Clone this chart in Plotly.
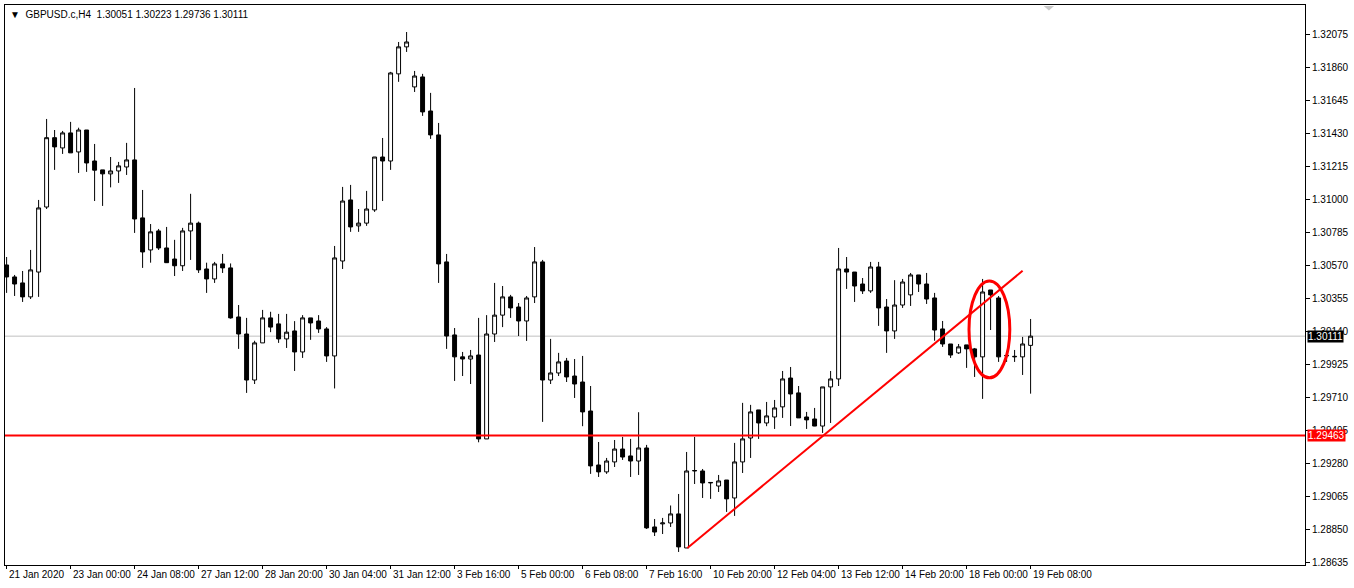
import plotly.graph_objects as go

opens = [1.30575,1.30497,1.30458,1.30367,1.30529,1.30953,1.31405,1.31338,1.31436,1.31312,
 1.31455,1.31253,1.31195,1.31169,1.31188,1.31214,1.31260,1.30882,1.30673,1.30797,
 1.30686,1.30614,1.30570,1.30797,1.30848,1.30549,1.30484,1.30582,1.30556,1.30236,
 1.30125,1.29825,1.30067,1.30230,1.30191,1.30093,1.30145,1.30008,1.30230,1.30210,
 1.30158,1.29982,1.30601,1.30999,1.30830,1.30848,1.30934,1.31279,1.31253,1.31821,
 1.31997,1.31736,1.31801,1.31579,1.31423,1.30595,1.30119,1.29976,1.29962,1.29988,
 1.29441,1.30125,1.30248,1.30367,1.30301,1.30210,1.30367,1.30595,1.29825,1.29871,
 1.29949,1.29851,1.29812,1.29623,1.29271,1.29226,1.29291,1.29375,1.29330,1.29297,
 1.29382,1.28867,1.28887,1.28893,1.28952,1.28730,1.29232,1.29232,1.29154,1.29134,
 1.29173,1.29056,1.29291,1.29447,1.29630,1.29545,1.29584,1.29650,1.29838,1.29741,
 1.29584,1.29571,1.29525,1.29780,1.29832,1.30549,1.30529,1.30451,1.30406,1.30562,
 1.30301,1.30145,1.30314,1.30380,1.30510,1.30451,1.30360,1.30158,1.30060,1.30002,
 1.30054,1.30028,1.29976,1.30412,1.30360,1.29982,1.29976,1.29976,1.30051]
highs = [1.30627,1.30510,1.30536,1.30673,1.30999,1.31527,1.31455,1.31449,1.31508,1.31470,
 1.31455,1.31364,1.31195,1.31279,1.31247,1.31371,1.31729,1.31064,1.30842,1.30810,
 1.30823,1.30739,1.30817,1.31039,1.30858,1.30590,1.30595,1.30647,1.30585,1.30314,
 1.30230,1.30081,1.30282,1.30270,1.30256,1.30256,1.30209,1.30248,1.30230,1.30248,
 1.30170,1.30699,1.31084,1.31097,1.30940,1.31058,1.31279,1.31403,1.31834,1.32029,
 1.32094,1.31840,1.31821,1.31697,1.31501,1.30647,1.30164,1.30008,1.30021,1.30230,
 1.30248,1.30458,1.30438,1.30380,1.30327,1.30373,1.30692,1.30608,1.30093,1.30002,
 1.29969,1.29962,1.29982,1.29786,1.29421,1.29317,1.29434,1.29454,1.29441,1.29615,
 1.29402,1.28919,1.28926,1.29007,1.29082,1.29356,1.29454,1.29245,1.29157,1.29206,
 1.29173,1.29415,1.29676,1.29663,1.29630,1.29682,1.29695,1.29884,1.29910,1.29786,
 1.29617,1.29643,1.29780,1.29884,1.30686,1.30627,1.30529,1.30490,1.30595,1.30595,
 1.30353,1.30476,1.30484,1.30523,1.30510,1.30523,1.30393,1.30210,1.30060,1.30060,
 1.30054,1.30034,1.30484,1.30412,1.30373,1.30015,1.30021,1.30106,1.30223]
lows = [1.30393,1.30373,1.30334,1.30353,1.30367,1.30940,1.31195,1.31299,1.31306,1.31175,
 1.31182,1.30992,1.30960,1.31081,1.31110,1.31162,1.30784,1.30556,1.30590,1.30673,
 1.30595,1.30503,1.30536,1.30608,1.30523,1.30393,1.30458,1.30523,1.30225,1.30028,
 1.29741,1.29799,1.30067,1.30137,1.30067,1.30034,1.29884,1.29969,1.30087,1.30132,
 1.29943,1.29770,1.30549,1.30791,1.30791,1.30830,1.30921,1.30992,1.31195,1.31769,
 1.31964,1.31703,1.31547,1.31397,1.30458,1.30028,1.29819,1.29851,1.29799,1.29419,
 1.29441,1.30073,1.30170,1.30230,1.30112,1.30080,1.30327,1.29552,1.29799,1.29851,
 1.29812,1.29708,1.29524,1.29213,1.29193,1.29213,1.29258,1.29304,1.29193,1.29206,
 1.28854,1.28808,1.28821,1.28867,1.28704,1.28730,1.29147,1.29056,1.29050,1.29095,
 1.28965,1.28939,1.29219,1.29317,1.29441,1.29524,1.29506,1.29578,1.29525,1.29578,
 1.29506,1.29524,1.29480,1.29545,1.29786,1.30419,1.30334,1.30386,1.30393,1.30178,
 1.30002,1.30093,1.30295,1.30308,1.30399,1.30321,1.30081,1.30041,1.29969,1.29995,
 1.29904,1.29845,1.29702,1.30151,1.29943,1.29943,1.29943,1.29858,1.29736]
closes = [1.30497,1.30451,1.30367,1.30543,1.30947,1.31405,1.31345,1.31436,1.31306,1.31455,
 1.31240,1.31193,1.31169,1.31188,1.31221,1.31260,1.30875,1.30660,1.30791,1.30686,
 1.30590,1.30570,1.30797,1.30848,1.30543,1.30484,1.30582,1.30556,1.30230,1.30125,
 1.29825,1.30067,1.30230,1.30170,1.30093,1.30137,1.30008,1.30230,1.30197,1.30158,
 1.29982,1.30621,1.30992,1.30823,1.30848,1.30940,1.31279,1.31253,1.31827,1.31997,
 1.32029,1.31807,1.31573,1.31423,1.30582,1.30112,1.29976,1.29962,1.29982,1.29441,
 1.30125,1.30248,1.30367,1.30295,1.30210,1.30360,1.30595,1.29825,1.29871,1.29943,
 1.29845,1.29799,1.29617,1.29265,1.29226,1.29297,1.29375,1.29323,1.29297,1.29382,
 1.28861,1.28834,1.28893,1.28952,1.28737,1.29232,1.29235,1.29154,1.29157,1.29167,
 1.29050,1.29291,1.29441,1.29617,1.29545,1.29591,1.29643,1.29832,1.29734,1.29578,
 1.29565,1.29525,1.29780,1.29832,1.30549,1.30529,1.30438,1.30406,1.30562,1.30295,
 1.30145,1.30314,1.30464,1.30510,1.30451,1.30353,1.30151,1.30060,1.29988,1.30041,
 1.30028,1.29976,1.30399,1.30380,1.29976,1.29985,1.29979,1.30060,1.30111]

x_labels = ["21 Jan 2020","23 Jan 00:00","24 Jan 08:00","27 Jan 12:00","28 Jan 20:00",
            "30 Jan 04:00","31 Jan 12:00","3 Feb 16:00","5 Feb 00:00","6 Feb 08:00",
            "7 Feb 16:00","10 Feb 20:00","12 Feb 04:00","13 Feb 12:00","14 Feb 20:00",
            "18 Feb 00:00","19 Feb 08:00"]
y_ticks = [1.28635,1.28850,1.29065,1.29280,1.29495,1.29710,1.29925,1.30140,1.30355,
           1.30570,1.30785,1.31000,1.31215,1.31430,1.31645,1.31860,1.32075]
support = 1.29463
last_price = 1.30111
header = "GBPUSD.c,H4  1.30051 1.30223 1.29736 1.30111"

idx = list(range(len(opens)))
F = "Liberation Sans"

fig = go.Figure(go.Candlestick(
    x=idx, open=opens, high=highs, low=lows, close=closes,
    increasing=dict(line=dict(color="black", width=1), fillcolor="white"),
    decreasing=dict(line=dict(color="black", width=1), fillcolor="black"),
    whiskerwidth=0, showlegend=False, hoverinfo="skip"))

shapes = [
    dict(type="line", xref="paper", x0=0, x1=1, yref="y", y0=last_price, y1=last_price,
         line=dict(color="#c0c0c0", width=1), layer="below"),
    dict(type="line", xref="paper", x0=0, x1=1, yref="y", y0=support, y1=support,
         line=dict(color="red", width=2)),
    dict(type="line", x0=85.1, y0=lows[85], x1=127.0, y1=1.30537,
         line=dict(color="red", width=2)),
    dict(type="circle", x0=120.3, x1=125.4, y0=1.29839, y1=1.30471,
         line=dict(color="red", width=3)),
    dict(type="path", xref="paper", yref="paper", path="M 0.799 0.998 L 0.807 0.998 L 0.803 0.990 Z",
         fillcolor="#c8c8c8", line=dict(width=0)),
]
ann = [
    dict(text="▼  " + header, xref="paper", yref="paper", x=0.002, y=0.997,
         xanchor="left", yanchor="top", showarrow=False, font=dict(family=F, size=10, color="black")),
    dict(text="1.30111", xref="paper", yref="y", x=1.0, y=last_price, xanchor="left", xshift=2,
         showarrow=False, bgcolor="black", font=dict(family=F, size=10, color="white"), borderpad=0),
    dict(text="1.29463", xref="paper", yref="y", x=1.0, y=support, xanchor="left", xshift=2,
         showarrow=False, bgcolor="red", font=dict(family=F, size=10, color="white"), borderpad=0),
]
for k, lab in enumerate(x_labels):
    ann.append(dict(text=lab, x=k * 8, xref="x", yref="paper", y=-0.004,
                    xanchor="left", yanchor="top", showarrow=False,
                    font=dict(family=F, size=10, color="black")))

fig.update_layout(
    width=1354, height=588, margin=dict(l=5, r=49, t=5, b=23),
    paper_bgcolor="white", plot_bgcolor="white",
    shapes=shapes, annotations=ann,
    xaxis=dict(range=[-0.2, 162.3], rangeslider=dict(visible=False), showgrid=False,
               zeroline=False, showline=True, mirror=True, linecolor="black",
               tickvals=[k * 8 for k in range(len(x_labels))], ticktext=[""] * len(x_labels),
               ticks="outside", ticklen=3, tickcolor="black"),
    yaxis=dict(range=[1.28619, 1.32270], side="right", showgrid=False, zeroline=False,
               showline=True, mirror=True, linecolor="black", tickvals=y_ticks,
               ticktext=[f"{v:.5f}" for v in y_ticks], ticks="outside", ticklen=4,
               tickcolor="black", tickfont=dict(family=F, size=10, color="black"),
               automargin=False),
)
fig.write_html("out.html", config={"displayModeBar": False})
with open("out.html", encoding="utf-8") as f:
    html = f.read()
html = html.replace("<body>", '<body style="margin:0;padding:0;overflow:hidden">', 1)
with open("out.html", "w", encoding="utf-8") as f:
    f.write(html)
